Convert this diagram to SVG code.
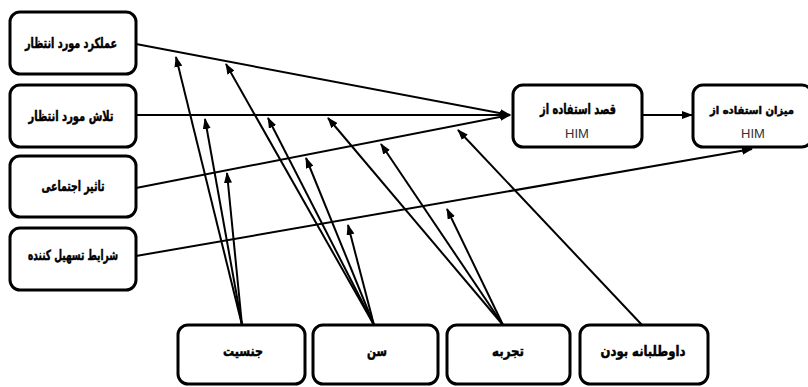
<svg xmlns="http://www.w3.org/2000/svg" width="808" height="387" viewBox="0 0 808 387">
<style>
.box{fill:#fff;stroke:#000;stroke-width:3}
.fa{font-family:"DejaVu Sans","Noto Sans",sans-serif;font-weight:bold;font-size:14px;fill:#000;stroke:#000;stroke-width:0.5;text-anchor:middle;direction:rtl}
.en{font-family:"Liberation Sans",Arial,sans-serif;font-size:13px;fill:#333;text-anchor:middle}
.ln{stroke:#000;stroke-width:2;fill:none;marker-end:url(#ah)}
</style>
<defs>
<marker id="ah" markerUnits="userSpaceOnUse" markerWidth="11" markerHeight="8" refX="10" refY="4" orient="auto">
<path d="M0,0 L11,4 L0,8 z" fill="#000"/>
</marker>
</defs>
<rect width="808" height="387" fill="#fff"/>
<g id="connectors">
<path class="ln" d="M136,44 L510,115"/>
<path class="ln" d="M136,115 L510,115"/>
<path class="ln" d="M136,188 L510,115"/>
<path class="ln" d="M136,256 L752,149"/>
<path class="ln" d="M642,115 L692,115"/>
<path class="ln" d="M242,325 L176,57"/>
<path class="ln" d="M242,325 L205,119"/>
<path class="ln" d="M242,325 L227,173"/>
<path class="ln" d="M374,325 L226,64"/>
<path class="ln" d="M374,325 L268,118"/>
<path class="ln" d="M374,325 L306,158"/>
<path class="ln" d="M374,325 L348,225"/>
<path class="ln" d="M503,325 L328,118"/>
<path class="ln" d="M503,325 L381,144"/>
<path class="ln" d="M503,325 L447,209"/>
<path class="ln" d="M642,325 L458,130"/>
</g>
<g id="n1"><rect class="box" x="10" y="12" width="126" height="62" rx="10"/><text class="fa" x="71" y="48" textLength="92" lengthAdjust="spacingAndGlyphs">عملکرد مورد انتظار</text></g>
<g id="n2"><rect class="box" x="10" y="85" width="126" height="62" rx="10"/><text class="fa" x="71" y="121" textLength="85" lengthAdjust="spacingAndGlyphs">تلاش مورد انتظار</text></g>
<g id="n3"><rect class="box" x="10" y="156" width="126" height="61" rx="10"/><text class="fa" x="73" y="191" textLength="63" lengthAdjust="spacingAndGlyphs">تاثیر اجتماعی</text></g>
<g id="n4"><rect class="box" x="10" y="228" width="126" height="62" rx="10"/><text class="fa" x="73" y="260" textLength="90" lengthAdjust="spacingAndGlyphs">شرایط تسهیل کننده</text></g>
<g id="n5"><rect class="box" x="513" y="85" width="129" height="62" rx="10"/><text class="fa" x="578" y="114" textLength="76" lengthAdjust="spacingAndGlyphs">قصد استفاده از</text><text class="en" x="577" y="138">HIM</text></g>
<g id="n6"><rect class="box" x="693" y="85" width="119" height="62" rx="10"/><text class="fa" x="752" y="114" style="font-size:11px" textLength="84" lengthAdjust="spacingAndGlyphs">میزان استفاده از</text><text class="en" x="753" y="138">HIM</text></g>
<g id="n7"><rect class="box" x="178" y="325" width="127" height="59" rx="10"/><text class="fa" x="243" y="356" textLength="40" lengthAdjust="spacingAndGlyphs">جنسیت</text></g>
<g id="n8"><rect class="box" x="313" y="325" width="125" height="59" rx="10"/><text class="fa" x="377" y="356" textLength="20" lengthAdjust="spacingAndGlyphs">سن</text></g>
<g id="n9"><rect class="box" x="447" y="325" width="123" height="59" rx="10"/><text class="fa" x="508" y="356" textLength="32" lengthAdjust="spacingAndGlyphs">تجربه</text></g>
<g id="n10"><rect class="box" x="580" y="325" width="128" height="59" rx="10"/><text class="fa" x="643" y="356" textLength="85" lengthAdjust="spacingAndGlyphs">داوطلبانه بودن</text></g>
</svg>
